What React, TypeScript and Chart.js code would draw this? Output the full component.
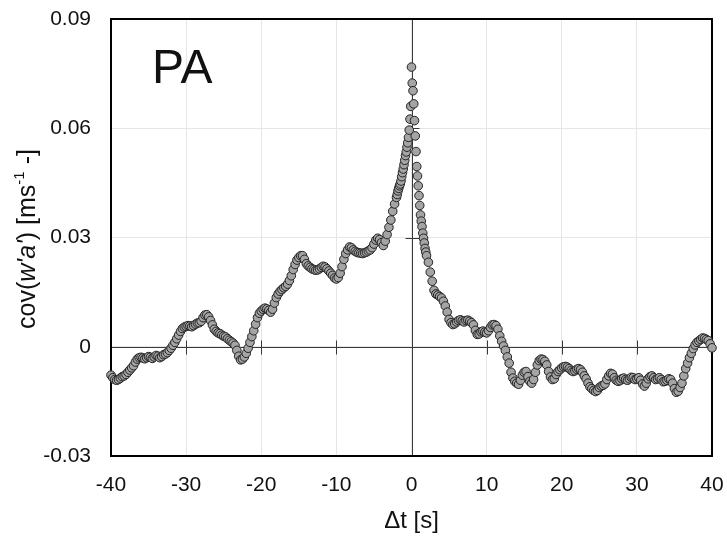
import React, { useEffect, useRef } from "react";
import { Chart, registerables } from "chart.js";

Chart.register(...registerables);

// Sampling grids (seconds)
const LEFT_START = -40;
const LEFT_STEP = 0.25;
const PEAK_START = -2;
const PEAK_STEP = 0.1;
const RIGHT_START = 2.25;
const RIGHT_STEP = 0.25;

// cov(w'a') values, t = -40 ... -2.25 (step 0.25)
const leftCov = [
  -0.0078, -0.0085, -0.009, -0.0092,
  -0.009, -0.0086, -0.0082, -0.008,
  -0.0076, -0.007, -0.0064, -0.0058,
  -0.0052, -0.0042, -0.0034, -0.003,
  -0.0029, -0.0031, -0.0033, -0.003,
  -0.0027, -0.0029, -0.0032, -0.0028,
  -0.0024, -0.0026, -0.003, -0.0027,
  -0.0022, -0.002, -0.0016, -0.001,
  -0.0004, 0.0004, 0.0012, 0.0022,
  0.0032, 0.0042, 0.005, 0.0054,
  0.0056, 0.0058, 0.0057, 0.0055,
  0.0058, 0.0062, 0.0065, 0.0066,
  0.007, 0.008, 0.0087, 0.0088,
  0.0082, 0.0072, 0.006, 0.0048,
  0.0042, 0.0038, 0.0036, 0.0032,
  0.0029, 0.0027, 0.0022, 0.0018,
  0.0014, 0.001, 0.0004, -0.001,
  -0.0026, -0.0036, -0.0034, -0.0028,
  -0.0018, -0.0004, 0.0012, 0.0028,
  0.0044, 0.0062, 0.008, 0.0092,
  0.0098, 0.0103, 0.0106, 0.0104,
  0.01, 0.0095, 0.0103, 0.012,
  0.0135, 0.0145, 0.0152, 0.0157,
  0.0162, 0.0166, 0.0172, 0.0182,
  0.0195, 0.0212, 0.0226, 0.0238,
  0.0245, 0.025, 0.025, 0.024,
  0.0228, 0.0222, 0.0218, 0.0214,
  0.0212, 0.021, 0.0211, 0.0214,
  0.0218, 0.0221, 0.0219, 0.0214,
  0.0208, 0.0202, 0.0196, 0.0189,
  0.0186, 0.019, 0.0202, 0.022,
  0.024, 0.0256, 0.0266, 0.0274,
  0.0272, 0.0266, 0.0262, 0.0259,
  0.0258, 0.0257, 0.0256, 0.0258,
  0.026, 0.0263, 0.0266, 0.0272,
  0.0282, 0.0293, 0.0298, 0.0294,
  0.0286, 0.0278, 0.029, 0.0308,
  0.0328, 0.0348, 0.0372, 0.0392,
];

// t = -2.0 ... 2.0 (step 0.1)
const peakCov = [
  0.041, 0.0418, 0.0428, 0.0435, 0.0442, 0.0447, 0.0455, 0.0467, 0.0478, 0.0488,
  0.05, 0.0512, 0.0525, 0.0535, 0.0548, 0.056, 0.0575, 0.0595, 0.0625, 0.066,
  0.0768,
  0.0724, 0.0703, 0.0667, 0.0621, 0.0579, 0.0536, 0.0495, 0.0469, 0.0442, 0.0415,
  0.0388, 0.0362, 0.0345, 0.033, 0.0312, 0.0298, 0.0285, 0.027, 0.026, 0.025,
];

// t = 2.25 ... 40 (step 0.25)
const rightCov = [
  0.0232, 0.0205, 0.018,
  0.0155, 0.0145, 0.0142, 0.0138,
  0.0134, 0.0125, 0.0112, 0.0095,
  0.0075, 0.0066, 0.0061, 0.0063,
  0.0068, 0.0072, 0.0074, 0.0071,
  0.0068, 0.0072, 0.0073, 0.007,
  0.0066, 0.006, 0.0045, 0.0034,
  0.0035, 0.0041, 0.0043, 0.004,
  0.0038, 0.0044, 0.0053, 0.006,
  0.0061, 0.0058, 0.0048, 0.003,
  0.0015, 0.0002, -0.001, -0.0028,
  -0.0045, -0.007, -0.0086, -0.0095,
  -0.01, -0.0103, -0.0092, -0.0078,
  -0.007, -0.0068, -0.0082, -0.0095,
  -0.01, -0.009, -0.007, -0.005,
  -0.0038, -0.0034, -0.0035, -0.004,
  -0.005, -0.0068, -0.0083, -0.009,
  -0.0088, -0.0076, -0.0068, -0.0063,
  -0.0058, -0.0055, -0.0054, -0.0056,
  -0.006, -0.0065, -0.0068, -0.0066,
  -0.0062, -0.006, -0.0063, -0.007,
  -0.008, -0.0088, -0.01, -0.011,
  -0.0115, -0.012, -0.0123, -0.012,
  -0.0112, -0.0108, -0.0106, -0.0102,
  -0.009, -0.008, -0.0073, -0.0075,
  -0.0085, -0.0092, -0.0095, -0.0093,
  -0.0088, -0.0086, -0.009, -0.0092,
  -0.0088, -0.0084, -0.0085, -0.009,
  -0.0088, -0.0085, -0.0092, -0.0102,
  -0.0108, -0.01, -0.0088, -0.0082,
  -0.008, -0.0085, -0.009, -0.0088,
  -0.0085, -0.009, -0.0096, -0.0095,
  -0.0092, -0.0088, -0.009, -0.01,
  -0.0115, -0.0125, -0.0122, -0.0112,
  -0.01, -0.008, -0.006, -0.0045,
  -0.003, -0.0018, -0.0005, 0.0005,
  0.0012, 0.0016, 0.002, 0.0024,
  0.0023, 0.002, 0.0017, 0.0008,
  -0.0003,
];

const xTicks = [-40, -30, -20, -10, 0, 10, 20, 30, 40];
const xTickLabels = ["-40", "-30", "-20", "-10", "0", "10", "20", "30", "40"];
const yTicks = [-0.03, 0, 0.03, 0.06, 0.09];
const yTickLabels = ["-0.03", "0", "0.03", "0.06", "0.09"];
const panelLabel = "PA";
const xTitle = "\u0394t [s]";
const yTitleParts = [
  { text: "cov(", kind: "normal" },
  { text: "w'a'", kind: "italic" },
  { text: ") [ms", kind: "normal" },
  { text: "-1", kind: "sup" },
  { text: " -]", kind: "normal" },
];

const FONT = '"Liberation Sans", Arial, Helvetica, sans-serif';

function buildPoints() {
  const pts: { x: number; y: number }[] = [];
  leftCov.forEach((v, i) => pts.push({ x: +(LEFT_START + i * LEFT_STEP).toFixed(3), y: v }));
  peakCov.forEach((v, i) => pts.push({ x: +(PEAK_START + i * PEAK_STEP).toFixed(3), y: v }));
  rightCov.forEach((v, i) => pts.push({ x: +(RIGHT_START + i * RIGHT_STEP).toFixed(3), y: v }));
  return pts;
}

const zeroPad = (s: any) => {
  s.paddingTop = 0;
  s.paddingBottom = 0;
  s.paddingLeft = 0;
  s.paddingRight = 0;
};

const framePlugin = {
  id: "frameAndText",
  beforeDatasetsDraw(chart: any) {
    const { ctx, chartArea, scales } = chart;
    const xs = scales.x;
    const ys = scales.y;
    const x0 = Math.round(xs.getPixelForValue(0)) + 0.5;
    const y0 = Math.round(ys.getPixelForValue(0)) + 0.5;
    ctx.save();
    ctx.strokeStyle = "#3a3a3a";
    ctx.lineWidth = 1;
    ctx.beginPath();
    ctx.moveTo(chartArea.left, y0);
    ctx.lineTo(chartArea.right, y0);
    ctx.moveTo(x0, chartArea.top);
    ctx.lineTo(x0, chartArea.bottom);
    xTicks.forEach((v) => {
      const px = Math.round(xs.getPixelForValue(v)) + 0.5;
      ctx.moveTo(px, y0 - 7);
      ctx.lineTo(px, y0 + 7);
    });
    yTicks.forEach((v) => {
      const py = Math.round(ys.getPixelForValue(v)) + 0.5;
      ctx.moveTo(x0 - 7, py);
      ctx.lineTo(x0 + 7, py);
    });
    ctx.stroke();
    ctx.strokeStyle = "#000";
    ctx.lineWidth = 2;
    ctx.strokeRect(chartArea.left, chartArea.top, chartArea.right - chartArea.left, chartArea.bottom - chartArea.top);
    ctx.restore();
  },
  afterDraw(chart: any) {
    const { ctx, chartArea } = chart;
    ctx.save();
    ctx.fillStyle = "#111";
    ctx.font = `48px ${FONT}`;
    ctx.textAlign = "left";
    ctx.textBaseline = "alphabetic";
    ctx.fillText(panelLabel, 152, 83);
    ctx.font = `24px ${FONT}`;
    ctx.textAlign = "center";
    ctx.textBaseline = "middle";
    ctx.fillText(xTitle, (chartArea.left + chartArea.right) / 2, 521);
    const fontFor = (kind: string) =>
      kind === "italic" ? `italic 25px ${FONT}` : kind === "sup" ? `15px ${FONT}` : `25px ${FONT}`;
    let total = 0;
    yTitleParts.forEach((p) => {
      ctx.font = fontFor(p.kind);
      total += ctx.measureText(p.text).width;
    });
    ctx.translate(28, 239);
    ctx.rotate(-Math.PI / 2);
    ctx.textAlign = "left";
    ctx.textBaseline = "middle";
    let cx = -total / 2;
    yTitleParts.forEach((p) => {
      ctx.font = fontFor(p.kind);
      ctx.fillText(p.text, cx, p.kind === "sup" ? -8 : 0);
      cx += ctx.measureText(p.text).width;
    });
    ctx.restore();
  },
};

export default function App() {
  const canvasRef = useRef<HTMLCanvasElement | null>(null);

  useEffect(() => {
    const canvas = canvasRef.current;
    if (!canvas) return;
    const chart = new Chart(canvas, {
      type: "scatter",
      data: {
        datasets: [
          {
            data: buildPoints(),
            pointRadius: 4.3,
            pointBackgroundColor: "#a4a4a4",
            pointBorderColor: "#222222",
            pointBorderWidth: 1,
            showLine: false,
            clip: false,
          } as any,
        ],
      },
      options: {
        animation: false,
        responsive: false,
        devicePixelRatio: 1,
        layout: { padding: { left: 0, top: 19, right: 15, bottom: 0 } },
        plugins: {
          legend: { display: false },
          tooltip: { enabled: false },
          title: { display: false },
        },
        scales: {
          x: {
            type: "linear",
            min: -40,
            max: 40,
            afterFit: (s: any) => {
              s.height = 80;
              zeroPad(s);
            },
            afterBuildTicks: (s: any) => {
              s.ticks = xTicks.map((v) => ({ value: v }));
            },
            grid: { color: "#e6e6e6", lineWidth: 1, drawTicks: false },
            border: { display: false },
            ticks: {
              color: "#111",
              font: { family: FONT, size: 21 },
              padding: 17,
              maxRotation: 0,
              autoSkip: false,
              callback: (_v: any, i: number) => xTickLabels[i],
            },
          },
          y: {
            type: "linear",
            min: -0.03,
            max: 0.09,
            afterFit: (s: any) => {
              s.width = 111;
              zeroPad(s);
            },
            afterBuildTicks: (s: any) => {
              s.ticks = yTicks.map((v) => ({ value: v }));
            },
            grid: { color: "#e6e6e6", lineWidth: 1, drawTicks: false },
            border: { display: false },
            ticks: {
              color: "#111",
              font: { family: FONT, size: 21 },
              padding: 20,
              autoSkip: false,
              callback: (_v: any, i: number) => yTickLabels[i],
            },
          },
        },
      } as any,
      plugins: [framePlugin],
    });
    return () => chart.destroy();
  }, []);

  return (
    <div style={{ position: "fixed", left: 0, top: 0, width: 727, height: 536, background: "#fff" }}>
      <canvas ref={canvasRef} width={727} height={536} style={{ display: "block" }} />
    </div>
  );
}
